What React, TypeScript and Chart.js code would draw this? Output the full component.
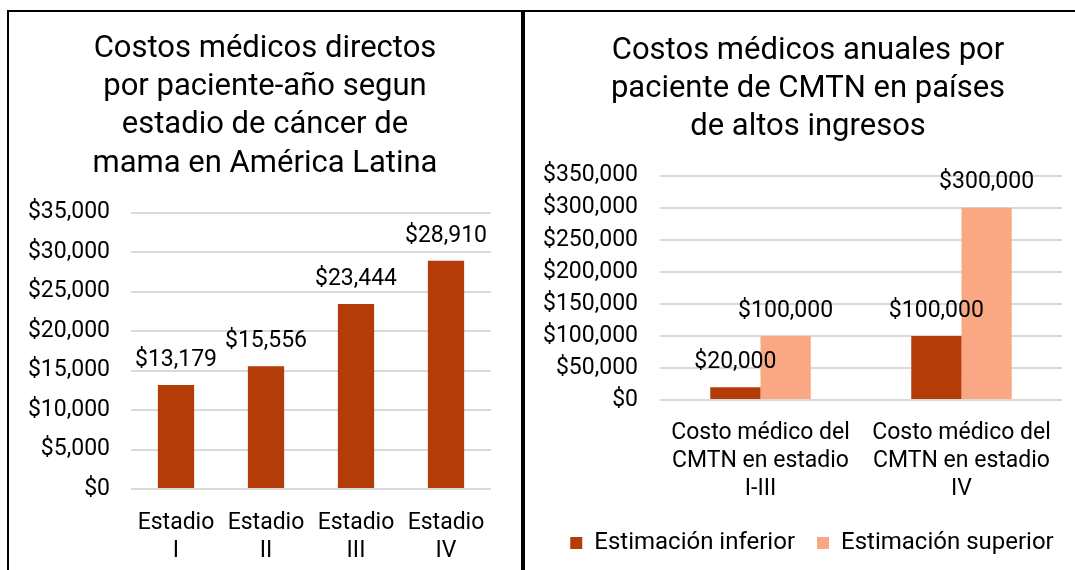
import React, { useEffect, useRef } from 'react';
import { Chart, registerables } from 'chart.js';

Chart.register(...registerables);

const FONT = 'Roboto, "Noto Sans", sans-serif';

// Left chart data
const leftTitle = ['Costos médicos directos', 'por paciente-año segun', 'estadio de cáncer de', 'mama en América Latina'];
const leftCategories = [['Estadio', 'I'], ['Estadio', 'II'], ['Estadio', 'III'], ['Estadio', 'IV']];
const leftValues = [13179, 15556, 23444, 28910];
const leftMax = 35000;
const leftStep = 5000;

// Right chart data
const rightTitle = ['Costos médicos anuales por', 'paciente de CMTN en países', 'de altos ingresos'];
const rightCategories = [
  ['Costo médico del', 'CMTN en estadio', 'I-III'],
  ['Costo médico del', 'CMTN en estadio', 'IV'],
];
const seriesNames = ['Estimación inferior', 'Estimación superior'];
const lowerValues = [20000, 100000];
const upperValues = [100000, 300000];
const rightMax = 350000;
const rightStep = 50000;

const DARK = '#B33C08';
const LIGHT = '#F9A883';
const GRID = '#D9D9D9';

const fmt = (v: number) => '$' + Number(v).toLocaleString('en-US');

const valueLabels = {
  id: 'valueLabels',
  afterDatasetsDraw(chart: any) {
    const ctx = chart.ctx;
    ctx.save();
    ctx.font = `23px ${FONT}`;
    ctx.fillStyle = '#000';
    ctx.textAlign = 'center';
    ctx.textBaseline = 'middle';
    chart.data.datasets.forEach((ds: any, i: number) => {
      const meta = chart.getDatasetMeta(i);
      meta.data.forEach((el: any, j: number) => {
        ctx.fillText(fmt(ds.data[j]), el.x, el.y - 25);
      });
    });
    ctx.restore();
  },
};

// Shifts the title (and legend) boxes horizontally after layout
const blockShift = {
  id: 'blockShift',
  afterLayout(chart: any, _args: any, opts: any) {
    const tb = chart.titleBlock;
    if (tb && opts && opts.titleDx) {
      tb.left += opts.titleDx;
      tb.right += opts.titleDx;
    }
    const lg = chart.legend;
    if (lg && opts && opts.legendDx) {
      lg.left += opts.legendDx;
      lg.right += opts.legendDx;
    }
  },
};

function LeftChart() {
  const ref = useRef<HTMLCanvasElement>(null);
  useEffect(() => {
    const chart = new Chart(ref.current as HTMLCanvasElement, {
      type: 'bar',
      data: {
        labels: leftCategories as any,
        datasets: [
          {
            label: 'Costo',
            data: leftValues,
            backgroundColor: DARK,
            borderWidth: 0,
            categoryPercentage: 0.403,
            barPercentage: 1,
          },
        ],
      },
      options: {
        responsive: false,
        animation: false,
        devicePixelRatio: 1,
        layout: { padding: { left: 10, right: 29, top: 0, bottom: 0 } },
        plugins: {
          legend: { display: false },
          tooltip: { enabled: false },
          blockShift: { titleDx: 10 },
          title: {
            display: true,
            text: leftTitle,
            color: '#000',
            font: { family: FONT, size: 31, weight: 'normal', lineHeight: 1.235 },
            padding: { top: 18, bottom: 29.6 },
          },
        },
        scales: {
          x: {
            grid: { display: false },
            border: { display: false },
            ticks: {
              color: '#000',
              font: { family: FONT, size: 23, lineHeight: 1.22 },
              padding: 12,
              maxRotation: 0,
              autoSkip: false,
            },
            afterFit(s: any) {
              s.height = 81;
            },
          },
          y: {
            min: 0,
            max: leftMax,
            ticks: {
              stepSize: leftStep,
              autoSkip: false,
              color: '#000',
              font: { family: FONT, size: 23 },
              padding: 21,
              callback: (v: any) => fmt(v),
            },
            grid: { color: GRID, lineWidth: 2, drawTicks: false },
            border: { display: false },
            afterFit(s: any) {
              s.width = 112;
            },
          },
        },
      },
      plugins: [valueLabels, blockShift],
    } as any);
    return () => chart.destroy();
  }, []);
  return (
    <canvas
      ref={ref}
      width={511}
      height={558}
      style={{ position: 'absolute', left: 9, top: 12, width: 511, height: 558 }}
    />
  );
}

function RightChart() {
  const ref = useRef<HTMLCanvasElement>(null);
  useEffect(() => {
    const chart = new Chart(ref.current as HTMLCanvasElement, {
      type: 'bar',
      data: {
        labels: rightCategories as any,
        datasets: [
          {
            label: seriesNames[0],
            data: lowerValues,
            backgroundColor: DARK,
            borderWidth: 0,
            categoryPercentage: 0.5,
            barPercentage: 1,
          },
          {
            label: seriesNames[1],
            data: upperValues,
            backgroundColor: LIGHT,
            borderWidth: 0,
            categoryPercentage: 0.5,
            barPercentage: 1,
          },
        ],
      },
      options: {
        responsive: false,
        animation: false,
        devicePixelRatio: 1,
        layout: { padding: { left: 0, right: 13, top: 0, bottom: 5 } },
        plugins: {
          legend: {
            display: true,
            position: 'bottom',
            labels: {
              color: '#000',
              font: { family: FONT, size: 24 },
              boxWidth: 12,
              boxHeight: 12,
              padding: 22,
            },
          },
          tooltip: { enabled: false },
          blockShift: { titleDx: 14, legendDx: 18 },
          title: {
            display: true,
            text: rightTitle,
            color: '#000',
            font: { family: FONT, size: 31, weight: 'normal', lineHeight: 1.235 },
            padding: { top: 19.8, bottom: 29 },
          },
        },
        scales: {
          x: {
            grid: { display: false },
            border: { display: false },
            ticks: {
              color: '#000',
              font: { family: FONT, size: 23, lineHeight: 1.22 },
              padding: 11,
              maxRotation: 0,
              autoSkip: false,
            },
            afterFit(s: any) {
              s.height = 109;
            },
          },
          y: {
            min: 0,
            max: rightMax,
            ticks: {
              stepSize: rightStep,
              autoSkip: false,
              color: '#000',
              font: { family: FONT, size: 23 },
              padding: 22,
              callback: (v: any) => fmt(v),
            },
            grid: { color: GRID, lineWidth: 2, drawTicks: false },
            border: { display: false },
            afterFit(s: any) {
              s.width = 134;
            },
          },
        },
      },
      plugins: [valueLabels, blockShift],
    } as any);
    return () => chart.destroy();
  }, []);
  return (
    <canvas
      ref={ref}
      width={549}
      height={558}
      style={{ position: 'absolute', left: 526, top: 12, width: 549, height: 558 }}
    />
  );
}

export default function App() {
  return (
    <div
      style={{
        position: 'absolute',
        left: 0,
        top: 0,
        width: 1075,
        height: 570,
        background: '#fff',
        overflow: 'hidden',
      }}
    >
      <LeftChart />
      <RightChart />
      <div style={{ position: 'absolute', left: 7, top: 10, width: 1068, height: 2, background: '#000' }} />
      <div style={{ position: 'absolute', left: 7, top: 10, width: 2, height: 560, background: '#000' }} />
      <div style={{ position: 'absolute', left: 521, top: 10, width: 4, height: 560, background: '#000' }} />
    </div>
  );
}
